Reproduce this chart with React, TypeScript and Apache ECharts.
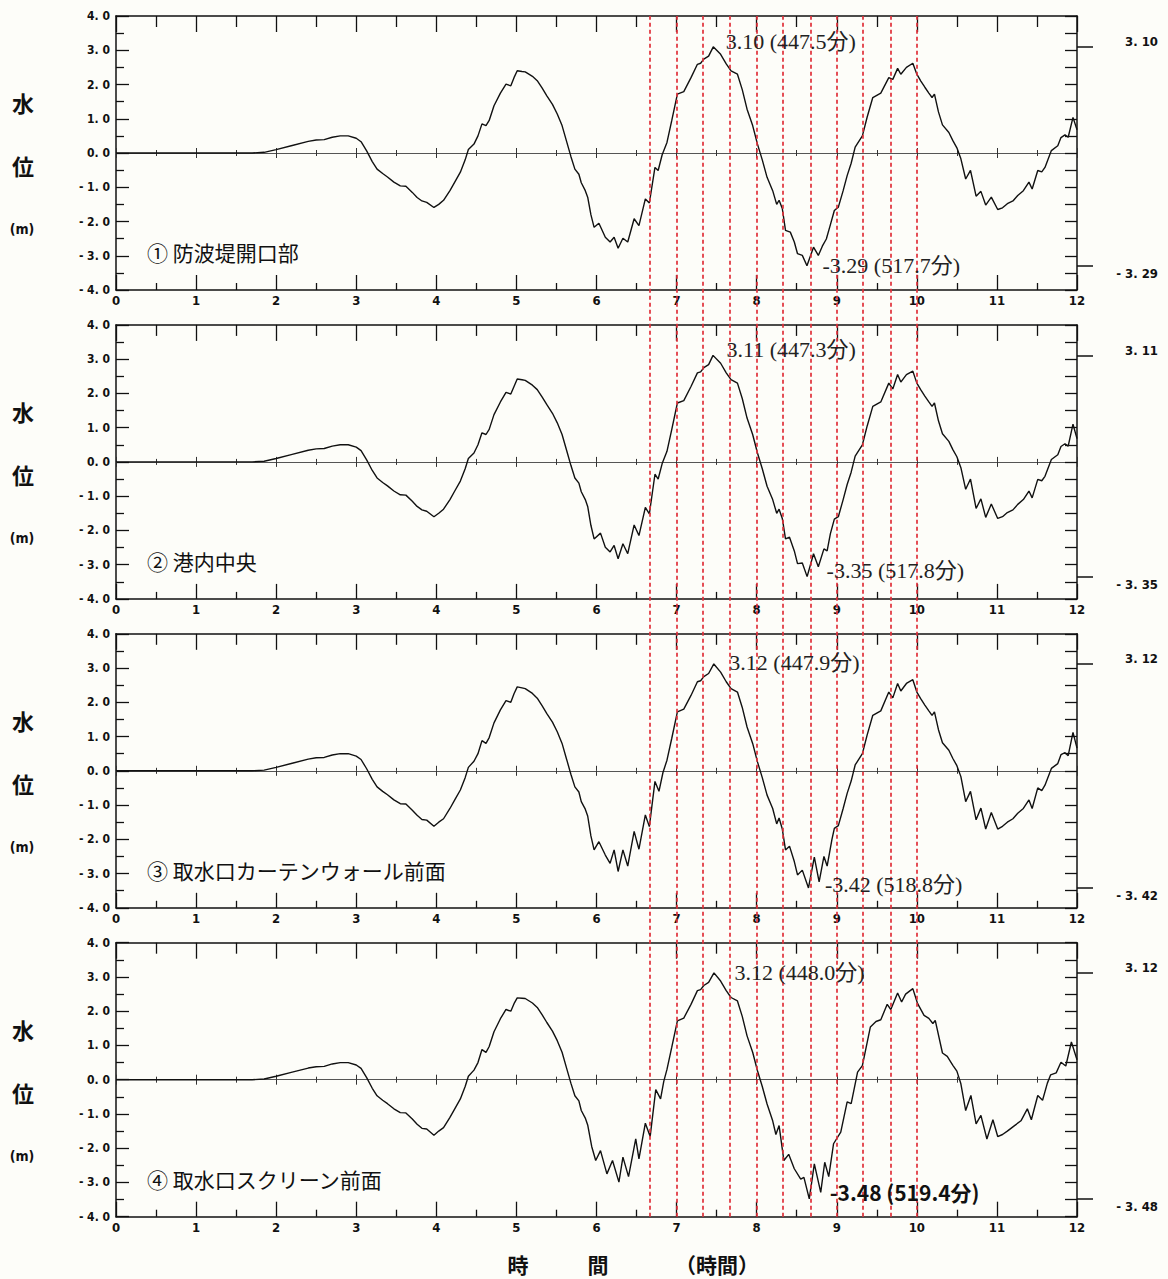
import React, { useEffect, useRef } from "react";
import * as echarts from "echarts";

// ---------- DATA ----------
// time in hours, water level in metres
const leadIn: [number, number][] = [
  [0, 0], [1.7, 0], [1.85, 0.02], [2.0, 0.1], [2.2, 0.22], [2.4, 0.34], [2.5, 0.38], [2.6, 0.39],
  [2.7, 0.46], [2.8, 0.5], [2.9, 0.5], [3.0, 0.43], [3.06, 0.33], [3.13, 0.06], [3.2, -0.25],
  [3.26, -0.47], [3.33, -0.6], [3.39, -0.7], [3.47, -0.85],
];

const gauge1: [number, number][] = [
  [3.55, -0.96], [3.62, -0.97], [3.7, -1.15], [3.76, -1.3], [3.82, -1.4], [3.88, -1.44], [3.97, -1.59],
  [4.03, -1.5], [4.09, -1.38], [4.17, -1.1], [4.23, -0.85], [4.3, -0.56], [4.36, -0.2], [4.4, 0.1],
  [4.47, 0.26], [4.52, 0.5], [4.57, 0.85], [4.62, 0.8], [4.66, 0.95], [4.72, 1.38], [4.8, 1.75],
  [4.87, 2.01], [4.93, 1.96], [4.97, 2.2], [5.01, 2.4], [5.07, 2.38], [5.11, 2.37], [5.2, 2.24],
  [5.26, 2.11], [5.32, 1.9], [5.38, 1.67], [5.45, 1.42], [5.51, 1.14], [5.57, 0.8], [5.63, 0.31],
  [5.68, -0.1], [5.73, -0.47], [5.78, -0.62], [5.81, -0.87], [5.86, -1.1], [5.89, -1.29], [5.93, -1.8],
  [5.97, -2.17], [6.03, -2.05], [6.11, -2.46], [6.17, -2.6], [6.22, -2.46], [6.27, -2.78], [6.33, -2.49],
  [6.39, -2.6], [6.47, -1.92], [6.53, -2.12], [6.61, -1.34], [6.66, -1.46], [6.73, -0.42], [6.77, -0.51],
  [6.82, -0.05], [6.88, 0.31], [6.94, 0.95], [7.01, 1.72], [7.09, 1.79], [7.18, 2.2], [7.26, 2.59],
  [7.3, 2.62], [7.34, 2.74], [7.4, 2.83], [7.458, 3.1], [7.55, 2.88], [7.62, 2.6], [7.68, 2.4],
  [7.76, 2.3], [7.82, 1.85], [7.88, 1.28], [7.95, 0.8], [8.01, 0.26], [8.07, -0.2], [8.13, -0.71],
  [8.2, -1.1], [8.25, -1.5], [8.28, -1.38], [8.32, -1.62], [8.36, -2.26], [8.42, -2.31], [8.47, -2.6],
  [8.51, -2.94], [8.57, -2.99], [8.628, -3.29], [8.71, -2.75], [8.77, -2.99], [8.82, -2.72], [8.87, -2.51],
  [8.92, -2.1], [8.97, -1.68], [9.02, -1.58], [9.08, -1.1], [9.13, -0.66], [9.18, -0.3], [9.23, 0.17],
  [9.32, 0.5], [9.38, 1.05], [9.45, 1.62], [9.55, 1.75], [9.65, 2.2], [9.7, 2.15], [9.76, 2.47],
  [9.8, 2.3], [9.87, 2.5], [9.95, 2.62], [10.0, 2.3], [10.05, 2.1], [10.1, 1.92], [10.15, 1.75],
  [10.19, 1.62], [10.22, 1.72], [10.27, 1.2], [10.32, 0.82], [10.4, 0.6], [10.45, 0.36], [10.5, 0.15],
  [10.55, -0.17], [10.61, -0.76], [10.67, -0.51], [10.74, -1.26], [10.8, -1.12], [10.86, -1.52],
  [10.93, -1.29], [11.01, -1.65], [11.07, -1.6], [11.13, -1.48], [11.2, -1.4], [11.26, -1.24],
  [11.33, -1.1], [11.4, -0.85], [11.44, -1.05], [11.51, -0.51], [11.56, -0.55], [11.6, -0.42],
  [11.68, 0.07], [11.76, 0.21], [11.8, 0.45], [11.85, 0.53], [11.89, 0.46], [11.95, 1.04], [12.0, 0.68],
];

const gauge2: [number, number][] = [
  [3.55, -0.96], [3.62, -0.97], [3.7, -1.15], [3.76, -1.3], [3.82, -1.4], [3.88, -1.44], [3.97, -1.6],
  [4.03, -1.5], [4.09, -1.38], [4.17, -1.1], [4.23, -0.85], [4.3, -0.56], [4.36, -0.2], [4.4, 0.1],
  [4.47, 0.26], [4.52, 0.5], [4.57, 0.85], [4.62, 0.8], [4.66, 0.95], [4.72, 1.38], [4.8, 1.75],
  [4.87, 2.03], [4.93, 1.98], [4.97, 2.2], [5.01, 2.42], [5.07, 2.4], [5.11, 2.38], [5.2, 2.24],
  [5.26, 2.11], [5.32, 1.9], [5.38, 1.67], [5.45, 1.42], [5.51, 1.14], [5.57, 0.8], [5.63, 0.31],
  [5.68, -0.1], [5.73, -0.47], [5.78, -0.62], [5.81, -0.87], [5.86, -1.1], [5.89, -1.3], [5.93, -1.85],
  [5.97, -2.25], [6.05, -2.08], [6.11, -2.49], [6.17, -2.63], [6.22, -2.44], [6.27, -2.83], [6.33, -2.39],
  [6.39, -2.68], [6.47, -1.84], [6.53, -2.15], [6.61, -1.33], [6.66, -1.52], [6.73, -0.36], [6.77, -0.5],
  [6.82, -0.05], [6.88, 0.31], [6.94, 0.95], [7.01, 1.72], [7.09, 1.79], [7.18, 2.2], [7.26, 2.6],
  [7.3, 2.63], [7.34, 2.75], [7.4, 2.84], [7.455, 3.11], [7.55, 2.88], [7.62, 2.6], [7.68, 2.4],
  [7.76, 2.3], [7.82, 1.85], [7.88, 1.28], [7.95, 0.8], [8.01, 0.26], [8.07, -0.2], [8.13, -0.71],
  [8.2, -1.1], [8.25, -1.5], [8.28, -1.38], [8.32, -1.65], [8.36, -2.25], [8.41, -2.2], [8.47, -2.6],
  [8.51, -2.97], [8.57, -2.95], [8.63, -3.35], [8.71, -2.68], [8.77, -3.06], [8.84, -2.54], [8.88, -2.6],
  [8.92, -2.1], [8.97, -1.67], [9.02, -1.6], [9.08, -1.1], [9.13, -0.66], [9.18, -0.3], [9.23, 0.17],
  [9.32, 0.5], [9.38, 1.05], [9.45, 1.62], [9.55, 1.75], [9.65, 2.3], [9.7, 2.13], [9.76, 2.55],
  [9.8, 2.33], [9.87, 2.55], [9.95, 2.65], [10.0, 2.3], [10.05, 2.1], [10.1, 1.92], [10.15, 1.75],
  [10.19, 1.62], [10.22, 1.72], [10.27, 1.2], [10.32, 0.82], [10.4, 0.6], [10.45, 0.36], [10.5, 0.15],
  [10.55, -0.17], [10.61, -0.8], [10.67, -0.5], [10.74, -1.36], [10.8, -1.08], [10.86, -1.62],
  [10.93, -1.23], [11.01, -1.65], [11.07, -1.6], [11.13, -1.48], [11.2, -1.4], [11.26, -1.24],
  [11.33, -1.1], [11.4, -0.85], [11.44, -1.05], [11.51, -0.51], [11.56, -0.55], [11.6, -0.42],
  [11.68, 0.07], [11.76, 0.21], [11.8, 0.45], [11.85, 0.53], [11.89, 0.46], [11.95, 1.1], [12.0, 0.68],
];

const gauge3: [number, number][] = [
  [3.55, -0.96], [3.62, -0.97], [3.7, -1.15], [3.76, -1.3], [3.82, -1.42], [3.88, -1.44], [3.97, -1.62],
  [4.03, -1.5], [4.09, -1.4], [4.17, -1.1], [4.23, -0.85], [4.3, -0.56], [4.36, -0.2], [4.4, 0.1],
  [4.47, 0.28], [4.52, 0.5], [4.57, 0.88], [4.62, 0.8], [4.66, 0.97], [4.72, 1.4], [4.8, 1.78],
  [4.87, 2.05], [4.93, 2.0], [4.97, 2.25], [5.01, 2.45], [5.07, 2.42], [5.11, 2.4], [5.2, 2.26],
  [5.26, 2.12], [5.32, 1.9], [5.38, 1.67], [5.45, 1.42], [5.51, 1.14], [5.57, 0.8], [5.63, 0.31],
  [5.68, -0.1], [5.73, -0.47], [5.78, -0.62], [5.81, -0.9], [5.86, -1.12], [5.89, -1.32], [5.93, -1.9],
  [5.97, -2.31], [6.03, -2.07], [6.11, -2.46], [6.17, -2.7], [6.22, -2.31], [6.27, -2.94], [6.33, -2.31],
  [6.39, -2.78], [6.47, -1.77], [6.53, -2.29], [6.61, -1.29], [6.66, -1.63], [6.73, -0.31], [6.78, -0.6],
  [6.83, -0.05], [6.88, 0.31], [6.94, 0.95], [7.01, 1.72], [7.09, 1.8], [7.18, 2.2], [7.26, 2.6],
  [7.3, 2.63], [7.34, 2.75], [7.4, 2.84], [7.465, 3.12], [7.55, 2.88], [7.62, 2.6], [7.68, 2.4],
  [7.76, 2.3], [7.82, 1.85], [7.88, 1.28], [7.95, 0.8], [8.01, 0.26], [8.07, -0.2], [8.13, -0.71],
  [8.2, -1.1], [8.25, -1.55], [8.28, -1.38], [8.32, -1.7], [8.36, -2.31], [8.41, -2.2], [8.47, -2.65],
  [8.51, -3.04], [8.57, -2.9], [8.647, -3.42], [8.72, -2.52], [8.78, -3.24], [8.84, -2.5], [8.88, -2.78],
  [8.94, -2.0], [8.97, -1.68], [9.02, -1.6], [9.08, -1.1], [9.13, -0.66], [9.18, -0.3], [9.23, 0.17],
  [9.32, 0.5], [9.38, 1.05], [9.45, 1.62], [9.55, 1.75], [9.65, 2.3], [9.7, 2.13], [9.76, 2.55],
  [9.8, 2.33], [9.87, 2.55], [9.95, 2.66], [10.0, 2.3], [10.05, 2.1], [10.1, 1.92], [10.15, 1.75],
  [10.19, 1.62], [10.22, 1.72], [10.27, 1.2], [10.32, 0.82], [10.4, 0.6], [10.45, 0.36], [10.5, 0.15],
  [10.55, -0.17], [10.61, -0.9], [10.67, -0.6], [10.74, -1.43], [10.8, -1.09], [10.86, -1.7],
  [10.93, -1.22], [11.01, -1.7], [11.07, -1.62], [11.13, -1.5], [11.2, -1.4], [11.26, -1.24],
  [11.33, -1.1], [11.4, -0.85], [11.44, -1.1], [11.51, -0.5], [11.56, -0.58], [11.6, -0.42],
  [11.68, 0.07], [11.76, 0.21], [11.8, 0.47], [11.85, 0.53], [11.89, 0.44], [11.95, 1.12], [12.0, 0.66],
];

const gauge4: [number, number][] = [
  [3.55, -0.96], [3.62, -0.97], [3.7, -1.15], [3.76, -1.3], [3.82, -1.42], [3.88, -1.44], [3.97, -1.62],
  [4.03, -1.5], [4.09, -1.4], [4.17, -1.1], [4.23, -0.85], [4.3, -0.56], [4.36, -0.2], [4.4, 0.1],
  [4.47, 0.28], [4.52, 0.5], [4.57, 0.88], [4.62, 0.8], [4.66, 0.97], [4.72, 1.4], [4.8, 1.78],
  [4.87, 2.05], [4.93, 2.0], [4.97, 2.22], [5.01, 2.39], [5.07, 2.38], [5.11, 2.37], [5.2, 2.24],
  [5.26, 2.11], [5.32, 1.9], [5.38, 1.67], [5.45, 1.42], [5.51, 1.14], [5.57, 0.8], [5.63, 0.31],
  [5.68, -0.1], [5.73, -0.47], [5.78, -0.62], [5.81, -0.9], [5.86, -1.12], [5.89, -1.32], [5.94, -1.95],
  [5.99, -2.36], [6.05, -2.07], [6.13, -2.75], [6.2, -2.36], [6.28, -2.99], [6.33, -2.26], [6.4, -2.83],
  [6.49, -1.73], [6.53, -2.31], [6.61, -1.27], [6.67, -1.66], [6.74, -0.29], [6.8, -0.56], [6.84, -0.05],
  [6.88, 0.3], [6.94, 0.95], [7.01, 1.72], [7.09, 1.8], [7.18, 2.2], [7.26, 2.6], [7.3, 2.63],
  [7.34, 2.75], [7.4, 2.84], [7.467, 3.12], [7.55, 2.88], [7.62, 2.6], [7.68, 2.4], [7.76, 2.3],
  [7.82, 1.85], [7.88, 1.28], [7.95, 0.8], [8.01, 0.26], [8.07, -0.2], [8.13, -0.71], [8.2, -1.2],
  [8.24, -1.6], [8.28, -1.34], [8.34, -2.36], [8.4, -2.18], [8.47, -2.6], [8.55, -2.9], [8.59, -2.85],
  [8.657, -3.48], [8.72, -2.46], [8.8, -3.29], [8.85, -2.41], [8.9, -2.83], [8.96, -1.87], [9.05, -1.53],
  [9.13, -0.65], [9.18, -0.7], [9.26, 0.22], [9.32, 0.41], [9.42, 1.54], [9.49, 1.7], [9.55, 1.75],
  [9.63, 2.2], [9.675, 2.05], [9.76, 2.53], [9.81, 2.27], [9.86, 2.5], [9.95, 2.66], [10.01, 2.22],
  [10.09, 1.88], [10.15, 1.79], [10.2, 1.64], [10.23, 1.73], [10.32, 0.78], [10.38, 0.68], [10.45, 0.42],
  [10.5, 0.25], [10.55, -0.12], [10.61, -0.9], [10.675, -0.46], [10.74, -1.29], [10.8, -1.04],
  [10.875, -1.73], [10.95, -1.17], [11.01, -1.66], [11.07, -1.6], [11.13, -1.5], [11.22, -1.34],
  [11.3, -1.2], [11.38, -0.85], [11.43, -1.17], [11.51, -0.46], [11.57, -0.6], [11.63, -0.1],
  [11.67, 0.14], [11.74, 0.2], [11.8, 0.51], [11.86, 0.4], [11.93, 1.1], [12.0, 0.58],
];

const gauges = [gauge1, gauge2, gauge3, gauge4];
const panelNames = ["① 防波堤開口部", "② 港内中央", "③ 取水口カーテンウォール前面", "④ 取水口スクリーン前面"];
const maxValues = [3.1, 3.11, 3.12, 3.12];
const maxMinutes = [447.5, 447.3, 447.9, 448.0];
const minValues = [-3.29, -3.35, -3.42, -3.48];
const minMinutes = [517.7, 517.8, 518.8, 519.4];
const redLineMinutes = [400, 420, 440, 460, 480, 500, 520, 540, 560, 580, 600];

// ---------- LAYOUT / STYLE ----------
const W = 1168;
const H = 1279;
const GRID_LEFT = 116;
const GRID_W = 961;
const PANEL_TOP0 = 16;
const PANEL_STEP = 308.9;
const PANEL_H = 274;
const panelTop = (i: number) => PANEL_TOP0 + i * PANEL_STEP;
const peakOffsets: [number, number][] = [[12, -5], [13, -6], [15, -1], [20, 0]];
const lowOffsets: [number, number][] = [[15, 0], [19, -6], [16, -3], [20, -7]];

const AXIS_FONT = '"DejaVu Sans Condensed", "Liberation Sans Narrow", "DejaVu Sans", sans-serif';
const SERIF = '"Liberation Serif", "DejaVu Serif", "Noto Sans CJK JP", serif';
const GOTHIC = '"Noto Sans CJK JP", "Noto Sans", sans-serif';

const fmtY = (v: number) => {
  const s = Math.abs(v).toFixed(1).replace(".", ". ");
  return v < 0 ? "- " + s : s;
};
const fmtR = (v: number) => {
  const s = Math.abs(v).toFixed(2).replace(".", ". ");
  return v < 0 ? "- " + s : s;
};

function buildOption() {
  const grid: any[] = [];
  const xAxis: any[] = [];
  const yAxis: any[] = [];
  const series: any[] = [];
  const graphics: any[] = [];
  const black = "#111";

  for (let i = 0; i < 4; i++) {
    const top = panelTop(i);
    grid.push({ left: GRID_LEFT, top, width: GRID_W, height: PANEL_H, outerBoundsMode: "none" });

    const baseX = {
      type: "value",
      gridIndex: i,
      min: 0,
      max: 12,
      interval: 1,
      splitLine: { show: false },
    };
    xAxis.push({
      ...baseX,
      position: "bottom",
      axisLine: { onZero: false, lineStyle: { color: black, width: 1.5 } },
      axisTick: { inside: true, length: 15, lineStyle: { color: black, width: 1.3 } },
      minorTick: { show: true, splitNumber: 2, length: 7, lineStyle: { color: black, width: 1.3 } },
      axisLabel: {
        margin: 4,
        color: black,
        fontFamily: AXIS_FONT,
        fontWeight: "bold",
        fontSize: 13,
        formatter: (v: number) => String(v),
      },
    });
    xAxis.push({
      ...baseX,
      position: "top",
      axisLine: { onZero: false, lineStyle: { color: black, width: 1.5 } },
      axisTick: { inside: true, length: 16, lineStyle: { color: black, width: 1.3 } },
      minorTick: { show: true, splitNumber: 2, length: 11, lineStyle: { color: black, width: 1.3 } },
      axisLabel: { show: false },
    });
    xAxis.push({
      ...baseX,
      position: "bottom",
      axisLine: { onZero: true, lineStyle: { color: "#555", width: 1 } },
      axisTick: { inside: true, length: 5, lineStyle: { color: "#333", width: 1 } },
      minorTick: { show: true, splitNumber: 2, length: 3, lineStyle: { color: "#333", width: 1 } },
      axisLabel: { show: false },
    });
    xAxis.push({
      ...baseX,
      position: "bottom",
      axisLine: { onZero: true, lineStyle: { color: "#555", width: 1 } },
      axisTick: { inside: false, length: 5, lineStyle: { color: "#333", width: 1 } },
      minorTick: { show: true, splitNumber: 2, length: 3, lineStyle: { color: "#333", width: 1 } },
      axisLabel: { show: false },
    });

    yAxis.push({
      type: "value",
      gridIndex: i,
      min: -4,
      max: 4,
      interval: 1,
      position: "left",
      splitLine: { show: false },
      axisLine: { show: true, onZero: false, lineStyle: { color: black, width: 1.5 } },
      axisTick: { inside: true, length: 13, lineStyle: { color: black, width: 1.3 } },
      minorTick: { show: true, splitNumber: 2, length: 8, lineStyle: { color: black, width: 1.3 } },
      axisLabel: {
        margin: 6,
        color: black,
        fontFamily: AXIS_FONT,
        fontWeight: "bold",
        fontSize: 12,
        formatter: fmtY,
      },
    });
    yAxis.push({
      type: "value",
      gridIndex: i,
      min: -4,
      max: 4,
      interval: 0.5,
      position: "right",
      splitLine: { show: false },
      axisLine: { show: true, onZero: false, lineStyle: { color: black, width: 1.5 } },
      axisTick: { inside: true, length: 12, lineStyle: { color: black, width: 1.3 } },
      axisLabel: { show: false },
    });
    yAxis.push({
      type: "value",
      gridIndex: i,
      min: -4,
      max: 4,
      position: "right",
      splitLine: { show: false },
      axisLine: { show: false, onZero: false },
      axisTick: {
        show: true,
        inside: false,
        length: 16,
        customValues: [maxValues[i], minValues[i]],
        lineStyle: { color: black, width: 1.5 },
      },
      axisLabel: {
        show: true,
        customValues: [maxValues[i], minValues[i]],
        align: "right",
        margin: 81,
        color: black,
        fontFamily: AXIS_FONT,
        fontWeight: "bold",
        fontSize: 13,
        formatter: (v: number) => (v > 0 ? `{up|${fmtR(v)}}` : `{dn|${fmtR(v)}}`),
        rich: {
          up: { padding: [0, 0, 10, 0], fontFamily: AXIS_FONT, fontWeight: "bold", fontSize: 13, color: black },
          dn: { padding: [16, 0, 0, 0], fontFamily: AXIS_FONT, fontWeight: "bold", fontSize: 13, color: black },
        },
      },
    });

    const isLast = i === 3;
    series.push({
      type: "line",
      name: panelNames[i],
      xAxisIndex: i * 4,
      yAxisIndex: i * 3,
      data: leadIn.concat(gauges[i]),
      showSymbol: false,
      symbol: "none",
      smooth: false,
      lineStyle: { color: "#111", width: 1.4 },
      z: 3,
      markPoint: {
        symbol: "circle",
        symbolSize: 1,
        silent: true,
        itemStyle: { color: "rgba(0,0,0,0)" },
        data: [
          {
            coord: [maxMinutes[i] / 60, maxValues[i]],
            label: {
              show: true,
              position: "right",
              distance: 0,
              offset: peakOffsets[i],
              formatter: `${maxValues[i].toFixed(2)} (${maxMinutes[i].toFixed(1)}分)`,
              fontFamily: SERIF,
              fontSize: 22,
              color: "#222",
            },
          },
          {
            coord: [minMinutes[i] / 60, minValues[i]],
            label: {
              show: true,
              position: "right",
              distance: 0,
              offset: lowOffsets[i],
              formatter: `${minValues[i].toFixed(2)} (${minMinutes[i].toFixed(1)}分)`,
              fontFamily: isLast ? GOTHIC : SERIF,
              fontWeight: isLast ? "bold" : "normal",
              fontSize: isLast ? 21 : 22,
              color: isLast ? "#111" : "#222",
            },
          },
        ],
      },
    });

    const txt = (x: number, y: number, text: string, font: string, align = "center") => ({
      type: "text",
      x,
      y,
      silent: true,
      style: {
        text,
        font,
        fill: "#111",
        align,
        verticalAlign: "middle",
        textAlign: align,
        textVerticalAlign: "middle",
      },
    });
    graphics.push(txt(23, top + 86, "水", `bold 22px ${GOTHIC}`));
    graphics.push(txt(23, top + 149, "位", `bold 22px ${GOTHIC}`));
    graphics.push(txt(22, top + 213, "(m)", `bold 14px ${AXIS_FONT}`));
    graphics.push(txt(147, top + 236, panelNames[i], `21px ${GOTHIC}`, "left"));
  }

  const bottom4 = panelTop(3) + PANEL_H;
  grid.push({ left: GRID_LEFT, top: PANEL_TOP0, width: GRID_W, height: bottom4 - PANEL_TOP0, outerBoundsMode: "none" });
  xAxis.push({ type: "value", gridIndex: 4, min: 0, max: 12, show: false });
  yAxis.push({ type: "value", gridIndex: 4, min: 0, max: 1, show: false });
  series.push({
    type: "line",
    xAxisIndex: 16,
    yAxisIndex: 12,
    data: [],
    z: 5,
    markLine: {
      silent: true,
      symbol: ["none", "none"],
      label: { show: false },
      lineStyle: { color: "#e0303a", type: [4, 3], width: 1.7 },
      data: redLineMinutes.map((m) => ({ xAxis: m / 60 })),
    },
  });

  const by = 1264;
  const tfont = `bold 21px ${GOTHIC}`;
  const mk = (x: number, text: string) => ({
    type: "text",
    x,
    y: by,
    silent: true,
    style: { text, font: tfont, fill: "#111", align: "center", verticalAlign: "middle", textAlign: "center", textVerticalAlign: "middle" },
  });
  graphics.push(mk(518, "時"));
  graphics.push(mk(598, "間"));
  graphics.push(mk(717, "（時間）"));

  return {
    animation: false,
    backgroundColor: "#fdfdf9",
    grid,
    xAxis,
    yAxis,
    series,
    graphic: { elements: graphics },
  };
}

export default function App() {
  const ref = useRef<HTMLDivElement>(null);
  useEffect(() => {
    if (!ref.current) return;
    const chart = echarts.init(ref.current, undefined, { renderer: "svg" });
    chart.setOption(buildOption() as any);
    return () => chart.dispose();
  }, []);
  return <div ref={ref} style={{ position: "absolute", left: 0, top: 0, width: W, height: H }} />;
}
